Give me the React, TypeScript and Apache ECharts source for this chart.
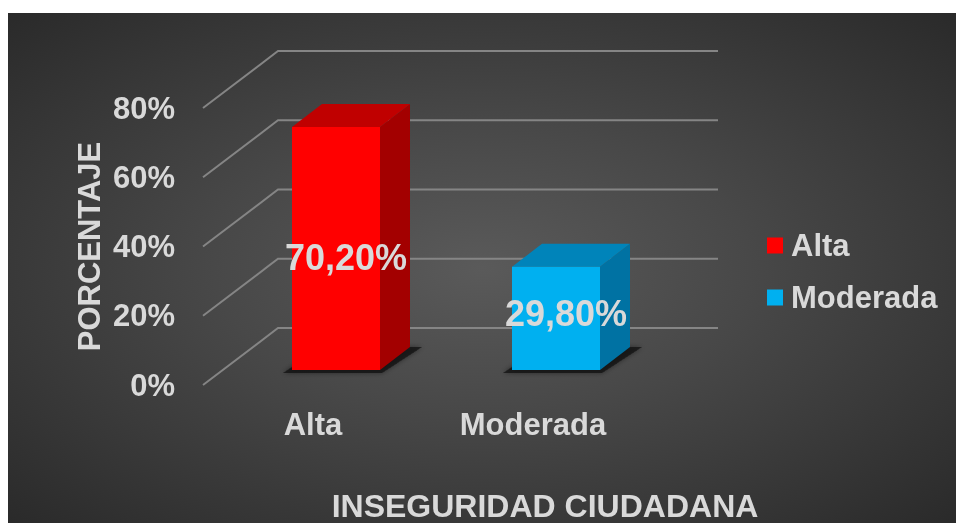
import React, { useEffect, useRef } from "react";
import * as echarts from "echarts";

const categories = ["Alta", "Moderada"];
const values = [70.2, 29.8];
const yTicks = [0, 20, 40, 60, 80];
const frontColors = ["#ff0000", "#00b0f0"];
const sideColors = ["#a30000", "#0072a3"];
const topColors = ["#c00000", "#0084ba"];
const yAxisTitle = "PORCENTAJE";
const xAxisTitle = "INSEGURIDAD CIUDADANA";

const FONT = '"Liberation Sans", Arial, sans-serif';
const TEXT_COLOR = "#d9d9d9";

// 3D geometry (pixels)
const GRID_DX = 75;
const GRID_DY = -57;
const BAR_W = 88;
const BAR_DX = 30;
const BAR_DY = -23;
const BAR_SHIFT_X = 23;
const BAR_SHIFT_Y = -15;

export default function App() {
  const ref = useRef<HTMLDivElement>(null);

  useEffect(() => {
    if (!ref.current) return;
    const chart = echarts.init(ref.current, null, { renderer: "svg" });

    const gridSeries: any = {
      type: "custom",
      name: "gridlines",
      clip: false,
      silent: true,
      z: 1,
      dimensions: ["v"],
      encode: { y: 0 },
      data: yTicks.map((v) => [v]),
      renderItem: (params: any, api: any) => {
        const cs = params.coordSys;
        const y = api.coord([0, api.value(0)])[1];
        const x0 = cs.x;
        const x1 = cs.x + GRID_DX;
        const x2 = cs.x + cs.width + GRID_DX;
        return {
          type: "polyline",
          shape: { points: [[x0, y], [x1, y + GRID_DY], [x2, y + GRID_DY]] },
          style: { stroke: "#858585", lineWidth: 2, fill: "none" },
        };
      },
    };

    const barSeries = categories.map((name, i) => ({
      type: "custom",
      name,
      clip: false,
      z: 2,
      itemStyle: { color: frontColors[i] },
      encode: { x: 0, y: 1 },
      data: [[i, values[i]]],
      renderItem: (params: any, api: any) => {
        const idx = api.value(0);
        const val = api.value(1);
        const base = api.coord([idx, 0]);
        const topP = api.coord([idx, val]);
        const fx = base[0] + BAR_SHIFT_X - BAR_W / 2;
        const by = base[1] + BAR_SHIFT_Y;
        const ty = topP[1] + BAR_SHIFT_Y;
        const label = val.toFixed(2).replace(".", ",") + "%";
        return {
          type: "group",
          children: [
            {
              type: "polygon",
              shape: {
                points: [
                  [fx - 9, by + 3],
                  [fx + BAR_W + 2, by + 3],
                  [fx + BAR_W + BAR_DX + 12, by + BAR_DY],
                  [fx + BAR_DX, by + BAR_DY],
                ],
              },
              style: {
                fill: "rgba(15,15,15,0.75)",
                shadowBlur: 5,
                shadowColor: "rgba(0,0,0,0.6)",
              },
            },
            {
              type: "polygon",
              shape: {
                points: [
                  [fx + BAR_W, ty],
                  [fx + BAR_W + BAR_DX, ty + BAR_DY],
                  [fx + BAR_W + BAR_DX, by + BAR_DY],
                  [fx + BAR_W, by],
                ],
              },
              style: { fill: sideColors[i] },
            },
            {
              type: "polygon",
              shape: {
                points: [
                  [fx, ty],
                  [fx + BAR_W, ty],
                  [fx + BAR_W + BAR_DX, ty + BAR_DY],
                  [fx + BAR_DX, ty + BAR_DY],
                ],
              },
              style: { fill: topColors[i] },
            },
            {
              type: "rect",
              shape: { x: fx, y: ty, width: BAR_W, height: by - ty },
              style: { fill: frontColors[i] },
            },
            {
              type: "text",
              x: fx + BAR_W / 2 + 10,
              y: by - 15 - 0.4 * (by - ty),
              style: {
                text: label,
                fill: TEXT_COLOR,
                fontFamily: FONT,
                fontWeight: "bold",
                fontSize: 36,
                align: "center",
                verticalAlign: "middle",
              },
            },
          ],
        };
      },
    }));

    chart.setOption({
      animation: false,
      backgroundColor: "transparent",
      textStyle: { fontFamily: FONT },
      grid: { left: 195, top: 95, width: 440, height: 277 },
      xAxis: {
        type: "category",
        data: categories,
        axisLine: { show: false },
        axisTick: { show: false },
        splitLine: { show: false },
        axisLabel: {
          margin: 24,
          color: TEXT_COLOR,
          fontSize: 31,
          fontWeight: "bold",
          fontFamily: FONT,
        },
      },
      yAxis: {
        type: "value",
        min: 0,
        max: 80,
        interval: 20,
        axisLine: { show: false },
        axisTick: { show: false },
        splitLine: { show: false },
        axisLabel: {
          margin: 28,
          formatter: "{value}%",
          color: TEXT_COLOR,
          fontSize: 31,
          fontWeight: "bold",
          fontFamily: FONT,
        },
        name: yAxisTitle,
        nameLocation: "middle",
        nameGap: 98,
        nameTextStyle: {
          color: TEXT_COLOR,
          fontSize: 31,
          fontWeight: "bold",
          fontFamily: FONT,
        },
      },
      legend: {
        data: categories,
        orient: "vertical",
        left: 754,
        top: 212,
        icon: "rect",
        itemWidth: 16,
        itemHeight: 16,
        itemGap: 21,
        textStyle: {
          color: TEXT_COLOR,
          fontSize: 31,
          fontWeight: "bold",
          fontFamily: FONT,
          padding: [0, 0, 0, 3],
        },
      },
      graphic: [
        {
          type: "text",
          x: 537,
          y: 493,
          style: {
            text: xAxisTitle,
            fill: TEXT_COLOR,
            fontFamily: FONT,
            fontWeight: "bold",
            fontSize: 32,
            align: "center",
            verticalAlign: "middle",
          },
        },
      ],
      series: [gridSeries, ...barSeries],
    });

    return () => chart.dispose();
  }, []);

  return (
    <div
      ref={ref}
      style={{
        position: "fixed",
        left: 8,
        top: 13,
        width: 948,
        height: 510,
        background:
          "radial-gradient(ellipse at 50% 50%, #5a5a5a 0%, #484848 40%, #2a2a2a 100%)",
      }}
    />
  );
}
